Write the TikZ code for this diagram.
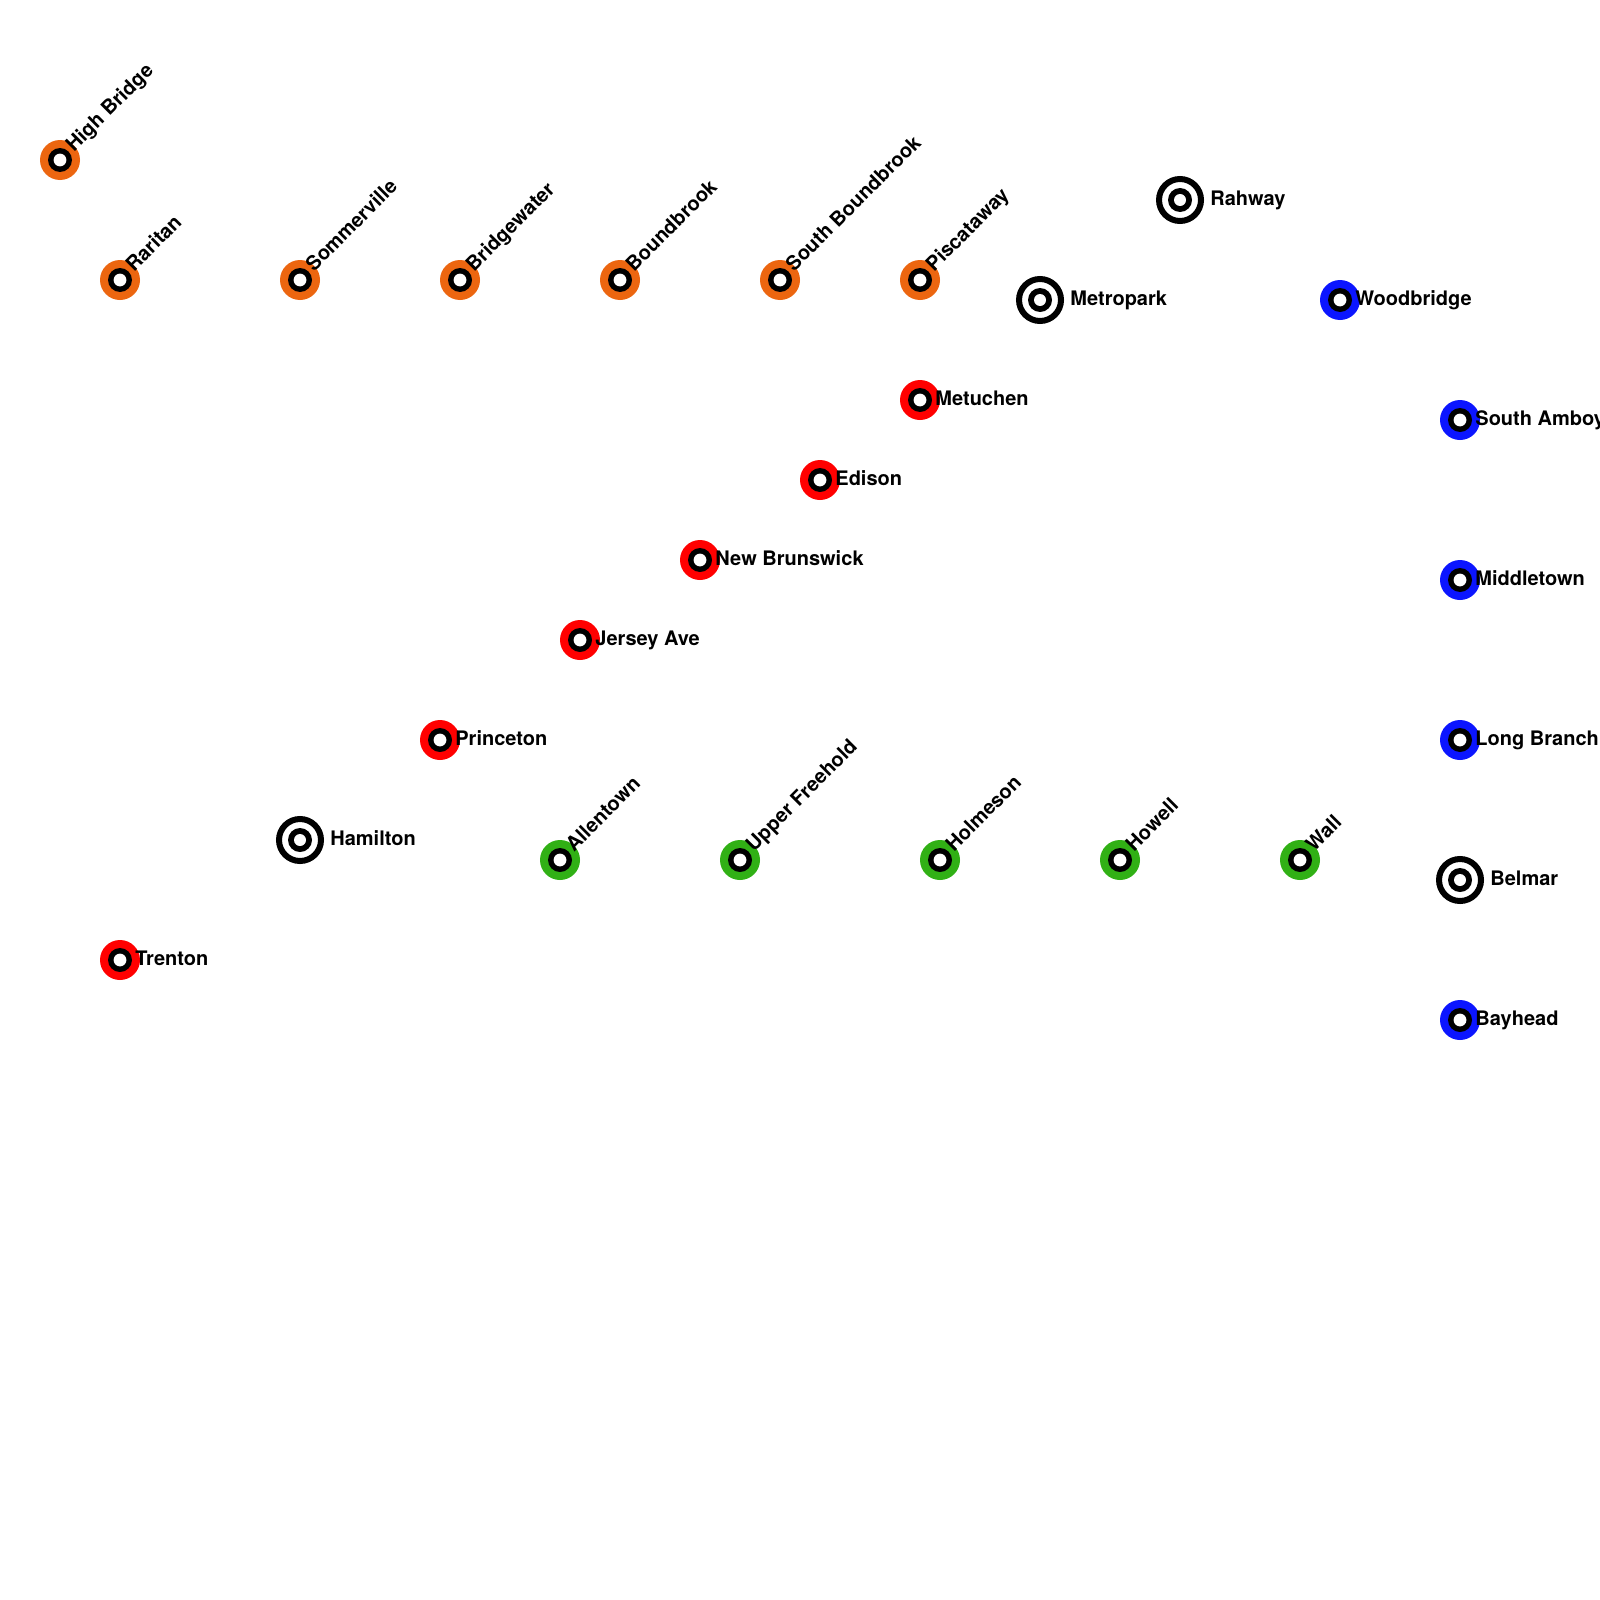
\documentclass[tikz,border=0pt]{standalone}
\usepackage{fontspec}
\setmainfont{TeX Gyre Heros}
\usetikzlibrary{positioning}
\definecolor{lineorange}{HTML}{EC6610}
\definecolor{linered}{HTML}{FF0000}
\definecolor{lineblue}{HTML}{0B15FF}
\definecolor{linegreen}{HTML}{31B015}

\begin{document}
\begin{tikzpicture}[
  x=0.5pt, y=-0.5pt, font=\fontsize{10pt}{12pt}\selectfont\bfseries,
  stn/.style={circle, fill=#1, minimum size=20pt, inner sep=0pt, path picture={
    \fill[black] (path picture bounding box.center) circle (6pt);
    \fill[white] (path picture bounding box.center) circle (3.2pt);}},
  hub/.style={circle, draw=black, fill=white, line width=3pt, minimum size=21pt, inner sep=0pt, path picture={
    \fill[black] (path picture bounding box.center) circle (6pt);
    \fill[white] (path picture bounding box.center) circle (3pt);}},
  lab/.style={xshift=7.5pt, yshift=-2.5pt, anchor=base west, inner sep=0pt},
  hublab/.style={xshift=15pt, yshift=-2.7pt, anchor=base west, inner sep=0pt},
  tilt/.style={xshift=6.9pt, yshift=3.7pt, rotate=45, anchor=base west, inner sep=0pt}
]
\useasboundingbox (0,0) rectangle (1600,1600);
\fill[white] (0,0) rectangle (1600,1600);
% orange
\node[stn=lineorange] (highbridge) at (60,160) {};
\node[stn=lineorange] (raritan) at (120,280) {};
\node[stn=lineorange] (sommerville) at (300,280) {};
\node[stn=lineorange] (bridgewater) at (460,280) {};
\node[stn=lineorange] (boundbrook) at (620,280) {};
\node[stn=lineorange] (southboundbrook) at (780,280) {};
\node[stn=lineorange] (piscataway) at (920,280) {};
\node[tilt] at (highbridge) {High Bridge};
\node[tilt] at (raritan) {Raritan};
\node[tilt] at (sommerville) {Sommerville};
\node[tilt] at (bridgewater) {Bridgewater};
\node[tilt] at (boundbrook) {Boundbrook};
\node[tilt] at (southboundbrook) {South Boundbrook};
\node[tilt] at (piscataway) {Piscataway};
% red
\node[stn=linered] (metuchen) at (920,400) {};
\node[stn=linered] (edison) at (820,480) {};
\node[stn=linered] (newbrunswick) at (700,560) {};
\node[stn=linered] (jerseyave) at (580,640) {};
\node[stn=linered] (princeton) at (440,740) {};
\node[stn=linered] (trenton) at (120,960) {};
\node[lab] at (metuchen) {Metuchen};
\node[lab] at (edison) {Edison};
\node[lab] at (newbrunswick) {New Brunswick};
\node[lab] at (jerseyave) {Jersey Ave};
\node[lab] at (princeton) {Princeton};
\node[lab] at (trenton) {Trenton};
% blue
\node[stn=lineblue] (woodbridge) at (1340,300) {};
\node[stn=lineblue] (southamboy) at (1460,420) {};
\node[stn=lineblue] (middletown) at (1460,580) {};
\node[stn=lineblue] (longbranch) at (1460,740) {};
\node[stn=lineblue] (bayhead) at (1460,1020) {};
\node[lab] at (woodbridge) {Woodbridge};
\node[lab] at (southamboy) {South Amboy};
\node[lab] at (middletown) {Middletown};
\node[lab] at (longbranch) {Long Branch};
\node[lab] at (bayhead) {Bayhead};
% green
\node[stn=linegreen] (allentown) at (560,860) {};
\node[stn=linegreen] (upperfreehold) at (740,860) {};
\node[stn=linegreen] (holmeson) at (940,860) {};
\node[stn=linegreen] (howell) at (1120,860) {};
\node[stn=linegreen] (wall) at (1300,860) {};
\node[tilt] at (allentown) {Allentown};
\node[tilt] at (upperfreehold) {Upper Freehold};
\node[tilt] at (holmeson) {Holmeson};
\node[tilt] at (howell) {Howell};
\node[tilt] at (wall) {Wall};
% interchanges
\node[hub] (metropark) at (1040,300) {};
\node[hub] (rahway) at (1180,200) {};
\node[hub] (hamilton) at (300,840) {};
\node[hub] (belmar) at (1460,880) {};
\node[hublab] at (metropark) {Metropark};
\node[hublab] at (rahway) {Rahway};
\node[hublab] at (hamilton) {Hamilton};
\node[hublab] at (belmar) {Belmar};
\end{tikzpicture}
\end{document}
